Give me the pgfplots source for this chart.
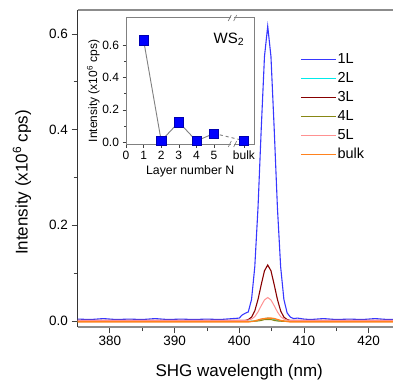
\documentclass[border=0pt]{standalone}
\usepackage{fontspec}
\setmainfont{Liberation Sans}
\usepackage{pgfplots}
\pgfplotsset{compat=1.18}
\definecolor{colA}{RGB}{55,55,255}
\definecolor{colB}{RGB}{0,235,235}
\definecolor{colC}{RGB}{135,0,0}
\definecolor{colD}{RGB}{135,135,20}
\definecolor{colE}{RGB}{255,145,145}
\definecolor{colF}{RGB}{255,130,30}
\definecolor{framegray}{RGB}{140,140,140}
\begin{document}
\begin{tikzpicture}
\begin{axis}[
  at={(77.5pt,54pt)}, anchor=south west,
  scale only axis, width=323.5pt, height=317pt,
  xmin=375, xmax=425, ymin=-0.0126, ymax=0.65,
  xtick={380,390,400,410,420}, ytick={0,0.2,0.4,0.6},
  minor x tick num=1, minor y tick num=1,
  tick pos=left, tick align=outside,
  major tick length=6pt, minor tick length=4pt,
  every tick/.style={black!75, line width=0.8pt},
  /pgf/number format/assume math mode=true,
  yticklabel style={/pgf/number format/.cd,fixed,fixed zerofill,precision=1},
  ticklabel style={font=\fontsize{13.5}{16}\selectfont},
  separate axis lines,
  x axis line style={framegray, line width=1.2pt},
  y axis line style={black!80, line width=0.8pt},
  xlabel={SHG wavelength (nm)},
  xlabel style={font=\fontsize{17}{20}\selectfont, at={(axis description cs:0.5,-0.1546)}, anchor=base},
  ylabel={Intensity (x10\textsuperscript{6} cps)},
  ylabel style={font=\fontsize{17}{20}\selectfont, at={(axis description cs:-0.1716,0.456)}, anchor=center},
  legend style={draw=none, fill=none, at={(0.688,0.868)}, anchor=north west,
    font=\fontsize{14.5}{17}\selectfont, row sep=3.5pt, inner sep=0pt,
    nodes={inner sep=1pt, text height=10.5pt, text depth=3pt}},
  legend cell align=left,
  legend image code/.code={\draw[#1] (0pt,0pt) -- (35pt,0pt);},
  legend image post style={line width=1.3pt},
  no markers,
]
\addplot[color=colA, line width=1.1pt] coordinates {
(375,0.004) (377,0.003) (379,0.005) (381,0.003) (383,0.004) (385,0.003) (387,0.005) (389,0.003)
(391,0.004) (393,0.003) (395,0.004) (397,0.003) (398,0.004) (399,0.005) (400.0,0.006)
(400.4,0.012) (400.9,0.016) (401.4,0.019) (401.9,0.045) (402.4,0.113) (402.9,0.237) (403.4,0.402)
(403.9,0.553) (404.4,0.616) (404.9,0.553) (405.4,0.402) (405.9,0.237) (406.4,0.113) (406.9,0.045)
(407.4,0.017) (407.9,0.008) (408.4,0.005) (409,0.006) (410,0.004) (411,0.003) (413,0.005)
(415,0.003) (417,0.004) (419,0.003) (421,0.005) (423,0.003) (425,0.004)};
\addlegendentry{1L}
\addplot[color=colB, line width=1pt] coordinates {
(375,-0.001) (401.4,-0.001) (402.4,0.000) (402.9,0.001) (403.4,0.003) (403.9,0.005) (404.4,0.006)
(404.9,0.005) (405.4,0.003) (405.9,0.001) (406.4,0.000) (407.4,-0.001) (425,-0.001)};
\addlegendentry{2L}
\addplot[color=colC, line width=1.1pt] coordinates {
(375,0.001) (400,0.001) (400.9,0.001) (401.4,0.003) (401.9,0.008) (402.4,0.021) (402.9,0.045)
(403.4,0.076) (403.9,0.105) (404.4,0.117) (404.9,0.105) (405.4,0.076) (405.9,0.045) (406.4,0.021)
(406.9,0.008) (407.4,0.003) (407.9,0.001) (425,0.001)};
\addlegendentry{3L}
\addplot[color=colD, line width=1pt] coordinates {
(375,-0.001) (401.9,-0.001) (402.9,0.000) (403.4,0.001) (403.9,0.003) (404.4,0.003)
(404.9,0.003) (405.4,0.001) (405.9,0.000) (406.9,-0.001) (425,-0.001)};
\addlegendentry{4L}
\addplot[color=colE, line width=1pt] coordinates {
(375,0.001) (400.9,0.001) (401.4,0.002) (401.9,0.004) (402.4,0.009) (402.9,0.019) (403.4,0.032)
(403.9,0.044) (404.4,0.049) (404.9,0.044) (405.4,0.032) (405.9,0.019) (406.4,0.009) (406.9,0.004)
(407.4,0.002) (407.9,0.001) (425,0.001)};
\addlegendentry{5L}
\addplot[color=colF, line width=1.4pt] coordinates {
(375,-0.002) (401.4,-0.002) (401.9,-0.001) (402.4,0.000) (402.9,0.002) (403.4,0.004) (403.9,0.005)
(404.4,0.006) (404.9,0.006) (405.4,0.005) (405.9,0.003) (406.4,0.001) (406.9,0.000) (407.4,-0.001)
(407.9,-0.002) (425,-0.002)};
\addlegendentry{bulk}
\end{axis}

\begin{axis}[
  at={(126pt,237pt)}, anchor=south west,
  scale only axis, width=128.5pt, height=126pt,
  xmin=0, xmax=7.3, ymin=-0.011, ymax=0.767,
  xtick={0,1,2,3,4,5,6.7}, xticklabels={0,1,2,3,4,5,bulk},
  ytick={0,0.2,0.4,0.6}, minor y tick num=1,
  tick pos=left, tick align=outside,
  major tick length=3.5pt, minor tick length=2pt,
  every tick/.style={black!75, line width=0.6pt},
  /pgf/number format/assume math mode=true,
  yticklabel style={/pgf/number format/.cd,fixed,fixed zerofill,precision=1},
  ticklabel style={font=\fontsize{12}{14}\selectfont},
  axis line style={gray, line width=1pt},
  axis background/.style={fill=white},
  xlabel={Layer number N},
  xlabel style={font=\fontsize{12.3}{14}\selectfont, at={(axis description cs:0.5,-0.246)}, anchor=base},
  ylabel={Intensity (x10\textsuperscript{6} cps)},
  ylabel style={font=\fontsize{12}{14}\selectfont, at={(axis description cs:-0.254,0.42)}, anchor=center},
  clip=false,
]
\addplot[gray, line width=0.9pt, mark=none] coordinates {(1,0.63) (2,0.008) (3,0.124) (4,0.008) (5,0.054)};
\addplot[gray, line width=0.9pt, dashed, mark=none] coordinates {(5,0.054) (6.7,0.01)};
\addplot[only marks, mark=square*, mark size=4.6pt, mark options={fill=blue, draw=blue!70!black}] coordinates {
(1,0.63) (2,0.008) (3,0.124) (4,0.008) (5,0.054) (6.7,0.01)};
\addplot[draw=none, mark=none, error bars/.cd, y dir=both, y explicit,
  error bar style={colF, line width=0.8pt}, error mark options={colF, mark size=1.5pt, rotate=90}] coordinates {
(1,0.63) +- (0,0.02) (2,0.008) +- (0,0.012) (3,0.124) +- (0,0.022) (4,0.008) +- (0,0.012) (5,0.054) +- (0,0.022) (6.7,0.01) +- (0,0.012)};
\draw[white, line width=2pt] (axis cs:5.95,0.767) -- (axis cs:6.15,0.767);
\draw[white, line width=2pt] (axis cs:5.95,-0.011) -- (axis cs:6.15,-0.011);
\draw[gray, line width=0.7pt] ([xshift=-3pt,yshift=-3pt]axis cs:5.98,0.767) -- ++(3pt,6pt);
\draw[gray, line width=0.7pt] ([xshift=0pt,yshift=-3pt]axis cs:6.12,0.767) -- ++(3pt,6pt);
\draw[gray, line width=0.7pt] ([xshift=-3pt,yshift=-3pt]axis cs:5.98,-0.011) -- ++(3pt,6pt);
\draw[gray, line width=0.7pt] ([xshift=0pt,yshift=-3pt]axis cs:6.12,-0.011) -- ++(3pt,6pt);
\node[anchor=base west, font=\fontsize{15}{18}\selectfont, inner sep=0pt] at (axis cs:4.97,0.61) {WS\textsubscript{2}};
\end{axis}
\pgfresetboundingbox
\path[use as bounding box] (0,0) rectangle (393pt,381pt);
\end{tikzpicture}
\end{document}
